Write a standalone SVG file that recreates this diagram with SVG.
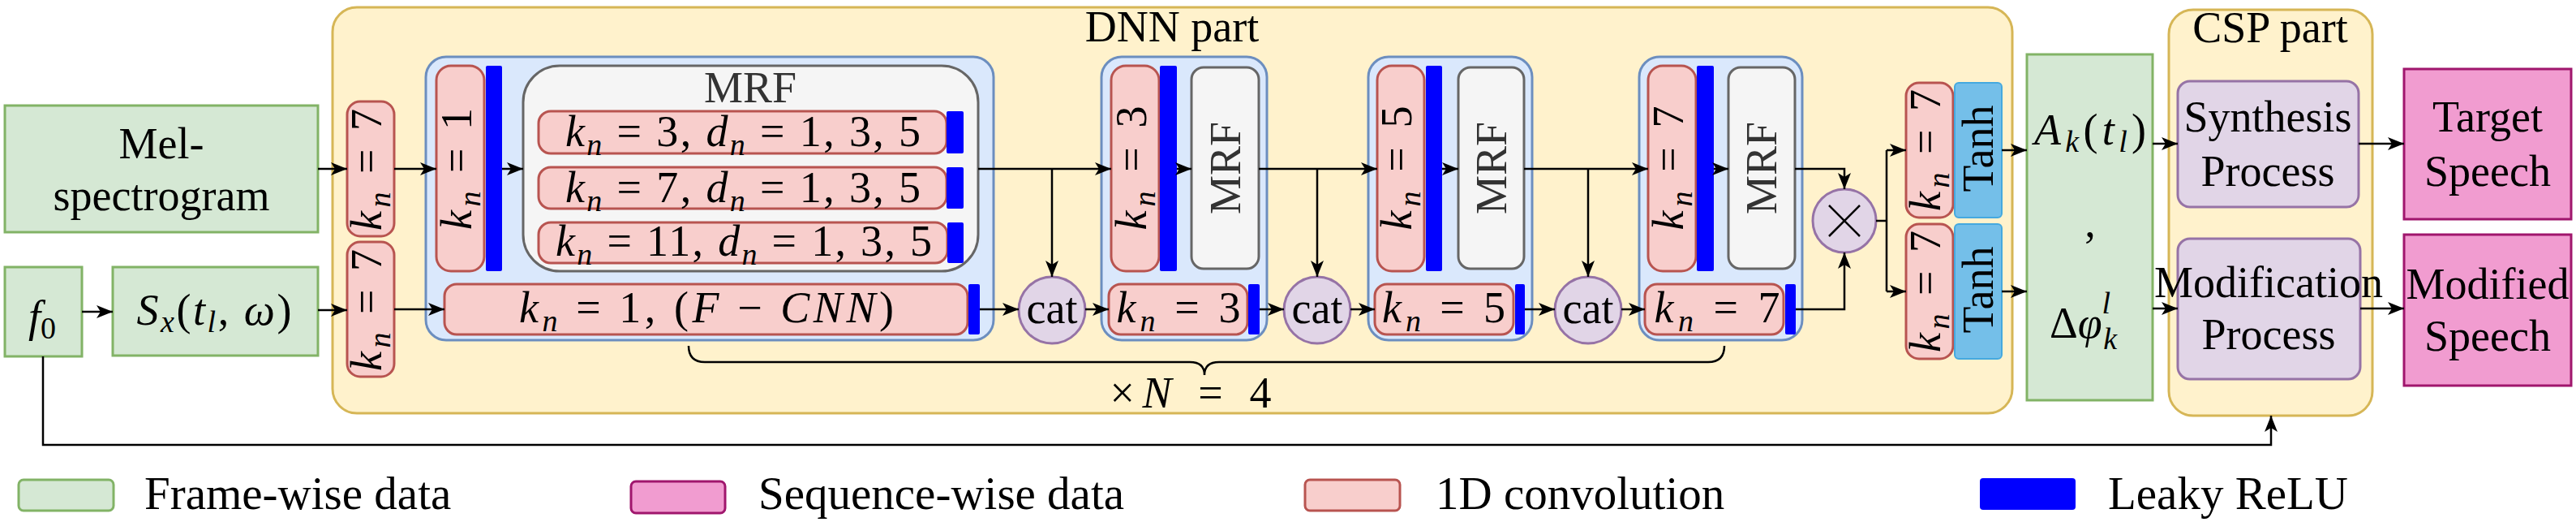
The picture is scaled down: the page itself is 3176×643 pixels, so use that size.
<svg xmlns="http://www.w3.org/2000/svg" width="3176" height="643" viewBox="0 0 3176 643">
<defs>
<marker id="arr" markerUnits="userSpaceOnUse" markerWidth="20" markerHeight="16" refX="20" refY="8" orient="auto">
<path d="M0,0 L20,8 L0,16 L5,8 Z" fill="#000"/>
</marker>
<style>
text{font-family:'Liberation Serif','Times New Roman','DejaVu Serif',serif;fill:#000;font-size:54px}
.i{font-style:italic}
.s{font-size:38px}
.leg{font-size:57px}
.grey{fill:#333333}
.green{fill:#d5e8d4;stroke:#82b366;stroke-width:3}
.yellow{fill:#fff2cc;stroke:#d6b656;stroke-width:3}
.blue{fill:#dae8fc;stroke:#6c8ebf;stroke-width:3}
.red{fill:#f8cecc;stroke:#b85450;stroke-width:3}
.gray{fill:#f5f5f5;stroke:#666666;stroke-width:3}
.purple{fill:#e1d5e7;stroke:#9673a6;stroke-width:3}
.pink{fill:#f19cd0;stroke:#a0166d;stroke-width:3}
.tanh{fill:#74bfe9;stroke:#45a9df;stroke-width:2}
.relu{fill:#0000ff}
.ln{fill:none;stroke:#000;stroke-width:2.5}
.a{marker-end:url(#arr)}
</style>
</defs>
<rect width="3176" height="643" fill="#ffffff"/>
<g font-family="Liberation Serif, Times New Roman, DejaVu Serif, serif">

<g id="dnn-part">
<rect class="yellow" x="410" y="9" width="2071" height="500" rx="30"/>
<text x="1445" y="51" text-anchor="middle">DNN part</text>
</g>
<g id="csp-part">
<rect class="yellow" x="2674" y="12" width="251" height="500" rx="30"/>
<text x="2799" y="52" text-anchor="middle">CSP part</text>
</g>

<g id="mel">
<rect class="green" x="6" y="130" width="386" height="156"/>
<text x="199" y="195" text-anchor="middle">Mel-</text>
<text x="199" y="259" text-anchor="middle">spectrogram</text>
</g>
<g id="f0">
<rect class="green" x="6" y="329" width="95" height="110"/>
<text x="52" y="408" text-anchor="middle"><tspan class="i">f</tspan><tspan class="s" dy="9">0</tspan></text>
</g>
<g id="sx">
<rect class="green" x="139" y="329" width="253" height="109"/>
<text x="264" y="400" text-anchor="middle" textLength="191" lengthAdjust="spacing"><tspan class="i">S</tspan><tspan class="i s" dy="9">x</tspan><tspan dy="-9">(</tspan><tspan class="i">t</tspan><tspan class="i s" dy="9">l</tspan><tspan dy="-9">, </tspan><tspan class="i">ω</tspan><tspan>)</tspan></text>
</g>

<g id="conv-in-1">
<rect class="red" x="428" y="125" width="58" height="166" rx="16"/>
<text transform="translate(457,209) rotate(-90)" y="13" text-anchor="middle" textLength="150" lengthAdjust="spacing"><tspan class="i">k</tspan><tspan class="i s" dy="11">n</tspan><tspan dy="-11"> = 7</tspan></text>
</g>
<g id="conv-in-2">
<rect class="red" x="428" y="298" width="58" height="166" rx="16"/>
<text transform="translate(457,382) rotate(-90)" y="13" text-anchor="middle" textLength="150" lengthAdjust="spacing"><tspan class="i">k</tspan><tspan class="i s" dy="11">n</tspan><tspan dy="-11"> = 7</tspan></text>
</g>

<g id="block1">
<rect class="blue" x="525" y="70" width="700" height="349" rx="25"/>
<rect class="red" x="538" y="81" width="59" height="253" rx="18"/>
<text transform="translate(567.5,208) rotate(-90)" y="13" text-anchor="middle" textLength="150" lengthAdjust="spacing"><tspan class="i">k</tspan><tspan class="i s" dy="11">n</tspan><tspan dy="-11"> = 1</tspan></text>
<rect class="relu" x="599" y="81" width="20" height="253" rx="2"/>
</g>
<g id="mrf1">
<rect class="gray" x="645" y="81" width="561" height="253" rx="45"/>
<text class="grey" x="925" y="126" text-anchor="middle" font-size="52">MRF</text>
<rect class="red" x="664" y="137" width="503" height="52" rx="15"/>
<text x="916" y="180" text-anchor="middle" textLength="438" lengthAdjust="spacing"><tspan class="i">k</tspan><tspan class="i s" dy="11">n</tspan><tspan dy="-11"> = 3, </tspan><tspan class="i">d</tspan><tspan class="i s" dy="11">n</tspan><tspan dy="-11"> = 1, 3, 5</tspan></text>
<rect class="relu" x="1167" y="137" width="21" height="52" rx="2"/>
<rect class="red" x="664" y="206" width="503" height="51" rx="15"/>
<text x="916" y="249" text-anchor="middle" textLength="438" lengthAdjust="spacing"><tspan class="i">k</tspan><tspan class="i s" dy="11">n</tspan><tspan dy="-11"> = 7, </tspan><tspan class="i">d</tspan><tspan class="i s" dy="11">n</tspan><tspan dy="-11"> = 1, 3, 5</tspan></text>
<rect class="relu" x="1167" y="206" width="21" height="51" rx="2"/>
<rect class="red" x="664" y="274" width="504" height="50" rx="15"/>
<text x="917" y="315" text-anchor="middle" textLength="464" lengthAdjust="spacing"><tspan class="i">k</tspan><tspan class="i s" dy="11">n</tspan><tspan dy="-11"> = 11, </tspan><tspan class="i">d</tspan><tspan class="i s" dy="11">n</tspan><tspan dy="-11"> = 1, 3, 5</tspan></text>
<rect class="relu" x="1168" y="274" width="20" height="50" rx="2"/>
</g>
<g id="fcnn">
<rect class="red" x="548" y="350" width="645" height="62" rx="15"/>
<text x="871" y="397" text-anchor="middle" textLength="462" lengthAdjust="spacing"><tspan class="i">k</tspan><tspan class="i s" dy="11">n</tspan><tspan dy="-11"> = 1, (</tspan><tspan class="i">F</tspan><tspan> − </tspan><tspan class="i">CNN</tspan><tspan>)</tspan></text>
<rect class="relu" x="1194" y="350" width="14" height="62" rx="2"/>
</g>

<g id="cat1">
<circle class="purple" cx="1297" cy="382" r="41"/>
<text x="1297" y="398" text-anchor="middle">cat</text>
</g>

<g id="block2">
<rect class="blue" x="1358" y="70" width="204" height="349" rx="25"/>
<rect class="red" x="1370" y="81" width="59" height="253" rx="18"/>
<text transform="translate(1399.5,207) rotate(-90)" y="13" text-anchor="middle" textLength="153" lengthAdjust="spacing"><tspan class="i">k</tspan><tspan class="i s" dy="11">n</tspan><tspan dy="-11"> = 3</tspan></text>
<rect class="relu" x="1430" y="81" width="21" height="253" rx="2"/>
<rect class="gray" x="1469" y="83" width="83" height="248" rx="15"/>
<text class="grey" transform="translate(1510.5,207) rotate(-90)" y="18" text-anchor="middle">MRF</text>
<rect class="red" x="1367" y="350" width="171" height="62" rx="15"/>
<text x="1453" y="397" text-anchor="middle" textLength="153" lengthAdjust="spacing"><tspan class="i">k</tspan><tspan class="i s" dy="11">n</tspan><tspan dy="-11"> = 3</tspan></text>
<rect class="relu" x="1539" y="350" width="14" height="62" rx="2"/>
</g>
<g id="cat2">
<circle class="purple" cx="1624" cy="382" r="41"/>
<text x="1624" y="398" text-anchor="middle">cat</text>
</g>

<g id="block3">
<rect class="blue" x="1687" y="70" width="202" height="349" rx="25"/>
<rect class="red" x="1698" y="81" width="58" height="253" rx="18"/>
<text transform="translate(1727,207) rotate(-90)" y="13" text-anchor="middle" textLength="153" lengthAdjust="spacing"><tspan class="i">k</tspan><tspan class="i s" dy="11">n</tspan><tspan dy="-11"> = 5</tspan></text>
<rect class="relu" x="1758" y="81" width="20" height="253" rx="2"/>
<rect class="gray" x="1798" y="83" width="81" height="248" rx="15"/>
<text class="grey" transform="translate(1838.5,207) rotate(-90)" y="18" text-anchor="middle">MRF</text>
<rect class="red" x="1695" y="350" width="171" height="62" rx="15"/>
<text x="1780" y="397" text-anchor="middle" textLength="152" lengthAdjust="spacing"><tspan class="i">k</tspan><tspan class="i s" dy="11">n</tspan><tspan dy="-11"> = 5</tspan></text>
<rect class="relu" x="1868" y="350" width="12" height="62" rx="2"/>
</g>
<g id="cat3">
<circle class="purple" cx="1958" cy="382" r="41"/>
<text x="1958" y="398" text-anchor="middle">cat</text>
</g>

<g id="block4">
<rect class="blue" x="2021" y="70" width="201" height="349" rx="25"/>
<rect class="red" x="2032" y="81" width="59" height="253" rx="18"/>
<text transform="translate(2061.5,207) rotate(-90)" y="13" text-anchor="middle" textLength="153" lengthAdjust="spacing"><tspan class="i">k</tspan><tspan class="i s" dy="11">n</tspan><tspan dy="-11"> = 7</tspan></text>
<rect class="relu" x="2092" y="81" width="21" height="253" rx="2"/>
<rect class="gray" x="2131" y="83" width="82" height="248" rx="15"/>
<text class="grey" transform="translate(2172,207) rotate(-90)" y="18" text-anchor="middle">MRF</text>
<rect class="red" x="2028" y="350" width="171" height="62" rx="15"/>
<text x="2117" y="397" text-anchor="middle" textLength="155" lengthAdjust="spacing"><tspan class="i">k</tspan><tspan class="i s" dy="11">n</tspan><tspan dy="-11"> = 7</tspan></text>
<rect class="relu" x="2201" y="350" width="13" height="62" rx="2"/>
</g>

<g id="multiply">
<circle class="purple" cx="2274" cy="272" r="39"/>
<path d="M2255,253 L2293,291 M2293,253 L2255,291" stroke="#000" stroke-width="2.5" fill="none"/>
</g>

<g id="out-1">
<rect class="red" x="2350" y="102" width="58" height="166" rx="16"/>
<text transform="translate(2379,185) rotate(-90)" y="13" text-anchor="middle" textLength="150" lengthAdjust="spacing"><tspan class="i">k</tspan><tspan class="i s" dy="11">n</tspan><tspan dy="-11"> = 7</tspan></text>
<rect class="tanh" x="2410" y="102" width="58" height="166" rx="5"/>
<text transform="translate(2439,183) rotate(-90)" y="18" text-anchor="middle">Tanh</text>
</g>
<g id="out-2">
<rect class="red" x="2350" y="276" width="58" height="166" rx="16"/>
<text transform="translate(2379,359) rotate(-90)" y="13" text-anchor="middle" textLength="150" lengthAdjust="spacing"><tspan class="i">k</tspan><tspan class="i s" dy="11">n</tspan><tspan dy="-11"> = 7</tspan></text>
<rect class="tanh" x="2410" y="276" width="58" height="166" rx="5"/>
<text transform="translate(2439,357) rotate(-90)" y="18" text-anchor="middle">Tanh</text>
</g>

<g id="params">
<rect class="green" x="2499" y="67" width="155" height="426"/>
<text x="2577" y="178" text-anchor="middle" textLength="138" lengthAdjust="spacing"><tspan class="i">A</tspan><tspan class="i s" dy="9">k</tspan><tspan dy="-9">(</tspan><tspan class="i">t</tspan><tspan class="i s" dy="9">l</tspan><tspan dy="-9">)</tspan></text>
<text x="2577" y="292" text-anchor="middle">,</text>
<text x="2527" y="416"><tspan>Δ</tspan><tspan class="i">φ</tspan><tspan class="i s" dy="-30">l</tspan><tspan class="i s" dx="-9" dy="44">k</tspan></text>
</g>

<g id="synthesis">
<rect class="purple" x="2685" y="100" width="223" height="155" rx="15"/>
<text x="2796" y="162" text-anchor="middle">Synthesis</text>
<text x="2796" y="229" text-anchor="middle">Process</text>
</g>
<g id="modification">
<rect class="purple" x="2685" y="294" width="225" height="173" rx="15"/>
<text x="2797" y="366" text-anchor="middle" font-size="42">Modification</text>
<text x="2797" y="430" text-anchor="middle">Process</text>
</g>
<g id="target">
<rect class="pink" x="2964" y="85" width="206" height="185"/>
<text x="3067" y="162" text-anchor="middle">Target</text>
<text x="3067" y="229" text-anchor="middle">Speech</text>
</g>
<g id="modified">
<rect class="pink" x="2964" y="289" width="206" height="186"/>
<text x="3067" y="368" text-anchor="middle">Modified</text>
<text x="3067" y="432" text-anchor="middle">Speech</text>
</g>

<g id="repeat-brace">
<path class="ln" d="M849,426 Q849,446 869,446 L1467,446 Q1485,446 1485,462 Q1485,446 1503,446 L2106,446 Q2126,446 2126,426"/>
<text x="1468" y="502" text-anchor="middle" textLength="199" lengthAdjust="spacing"><tspan>×</tspan><tspan class="i">N</tspan><tspan> = 4</tspan></text>
</g>

<g id="connectors">
<path class="ln a" d="M392,208 H428"/>
<path class="ln a" d="M392,382 H428"/>
<path class="ln a" d="M101,384 H139"/>
<path class="ln a" d="M486,208 H538"/>
<path class="ln a" d="M486,381 H548"/>
<path class="ln a" d="M619,208 H645"/>
<path class="ln a" d="M1206,208 H1370"/>
<path class="ln a" d="M1297,208 V341"/>
<path class="ln a" d="M1208,381 H1256"/>
<path class="ln a" d="M1338,381 H1367"/>
<path class="ln a" d="M1451,208 H1469"/>
<path class="ln a" d="M1552,208 H1698"/>
<path class="ln a" d="M1624,208 V341"/>
<path class="ln a" d="M1553,381 H1583"/>
<path class="ln a" d="M1665,381 H1695"/>
<path class="ln a" d="M1778,208 H1798"/>
<path class="ln a" d="M1879,208 H2032"/>
<path class="ln a" d="M1958,208 V341"/>
<path class="ln a" d="M1880,381 H1917"/>
<path class="ln a" d="M1999,381 H2028"/>
<path class="ln a" d="M2113,208 H2131"/>
<path class="ln a" d="M2213,208 H2274 V233"/>
<path class="ln a" d="M2214,381 H2274 V311"/>
<path class="ln" d="M2313,272 H2326 M2326,185 V359"/>
<path class="ln a" d="M2326,185 H2350"/>
<path class="ln a" d="M2326,359 H2350"/>
<path class="ln a" d="M2468,185 H2499"/>
<path class="ln a" d="M2468,359 H2499"/>
<path class="ln a" d="M2654,177 H2685"/>
<path class="ln a" d="M2654,380 H2685"/>
<path class="ln a" d="M2908,177 H2964"/>
<path class="ln a" d="M2910,380 H2964"/>
<path class="ln a" d="M53,439 V548 H2800 V512"/>
</g>

<g id="legend">
<rect class="green" x="23" y="591" width="117" height="38" rx="6"/>
<text class="leg" x="178" y="627">Frame-wise data</text>
<rect class="pink" x="778" y="593" width="116" height="39" rx="6"/>
<text class="leg" x="935" y="627">Sequence-wise data</text>
<rect class="red" x="1609" y="591" width="117" height="38" rx="6"/>
<text class="leg" x="1770" y="627">1D convolution</text>
<rect class="relu" x="2441" y="589" width="118" height="39" rx="4"/>
<text class="leg" x="2599" y="627">Leaky ReLU</text>
</g>
</g>
</svg>
